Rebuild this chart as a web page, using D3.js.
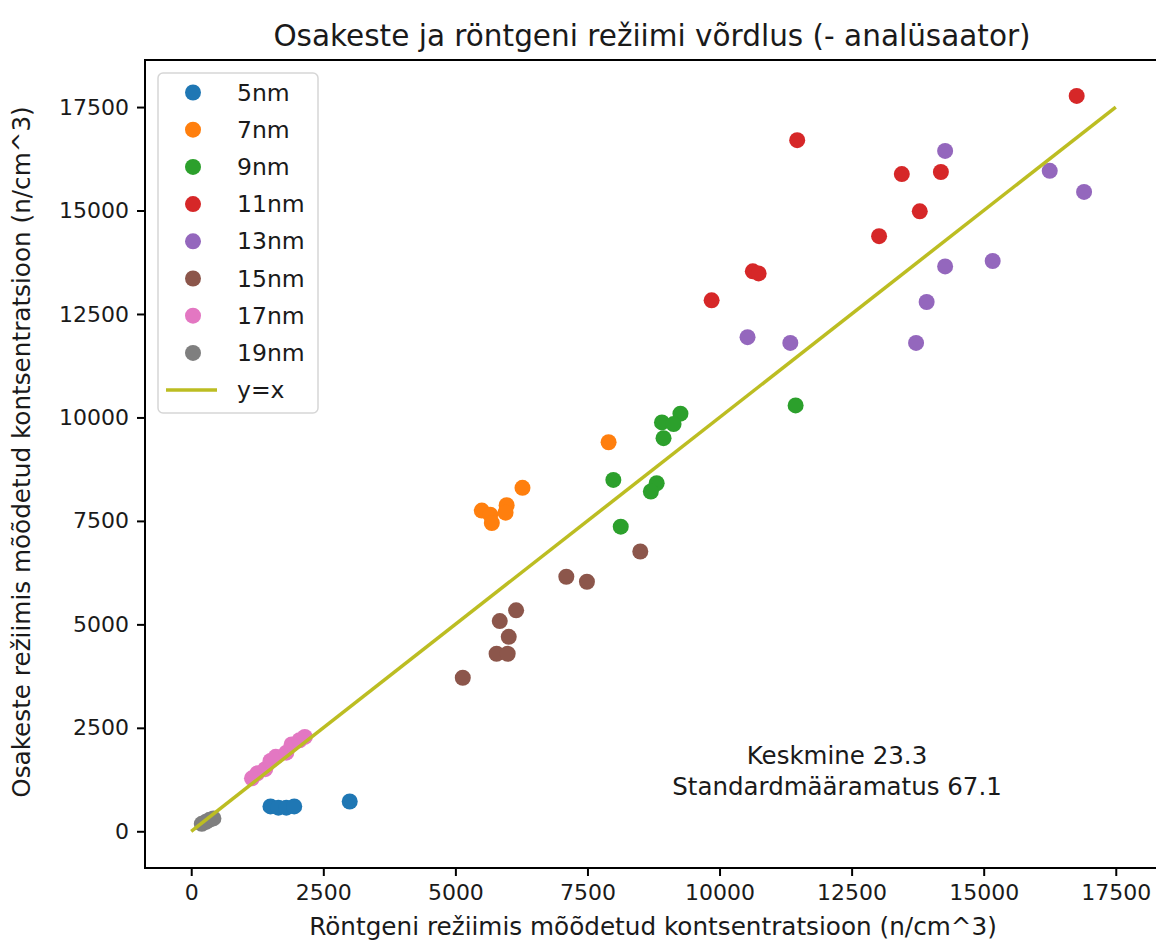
<!DOCTYPE html>
<html>
<head>
<meta charset="utf-8">
<script src="https://cdn.jsdelivr.net/npm/d3@7"></script>
<style>
  html, body { margin: 0; padding: 0; background: #fff; }
  svg { display: block; font-family: "DejaVu Sans", sans-serif; }
</style>
</head>
<body>
<svg id="chart" width="1156" height="945"></svg>
<script>
// Measured concentrations: [X-ray mode, particle mode] in n/cm^3
const labels = ["5nm", "7nm", "9nm", "11nm", "13nm", "15nm", "17nm", "19nm"];
const colors = ["#1f77b4", "#ff7f0e", "#2ca02c", "#d62728", "#9467bd", "#8c564b", "#e377c2", "#7f7f7f"];

const nm5 = [[1500, 600], [1650, 570], [1800, 570], [1950, 600], [3000, 720]];
const nm7 = [[7900, 9400], [6270, 8300], [5500, 7750], [5660, 7650], [5690, 7450], [5970, 7880], [5950, 7700]];
const nm9 = [[9260, 10090], [8910, 9880], [9130, 9840], [8940, 9500], [7990, 8490], [8810, 8410], [8700, 8210], [8130, 7360], [11440, 10290]];
const nm11 = [[16760, 17770], [11470, 16700], [13450, 15880], [14190, 15930], [13790, 14980], [13020, 14380], [10630, 13530], [10740, 13480], [9850, 12830]];
const nm13 = [[14270, 16440], [16250, 15960], [16900, 15450], [14270, 13650], [15170, 13780], [13920, 12790], [10530, 11940], [11340, 11800], [13720, 11800]];
const nm15 = [[8500, 6760], [7100, 6150], [7490, 6030], [6150, 5340], [5840, 5080], [6010, 4700], [5780, 4290], [5990, 4290], [5140, 3710]];
const nm17 = [[1150, 1280], [1250, 1400], [1400, 1500], [1500, 1700], [1600, 1800], [1800, 1900], [1900, 2100], [2050, 2200], [2150, 2280]];
const nm19 = [[200, 180], [280, 230], [350, 280], [420, 310]];

const seriesData = [nm5, nm7, nm9, nm11, nm13, nm15, nm17, nm19];
const identityLine = [[0, 0], [17500, 17500]];
const tickValues = [0, 2500, 5000, 7500, 10000, 12500, 15000, 17500];

const titleText = "Osakeste ja röntgeni režiimi võrdlus (- analüsaator)";
const xLabel = "Röntgeni režiimis mõõdetud kontsentratsioon (n/cm^3)";
const yLabel = "Osakeste režiimis mõõdetud kontsentratsioon (n/cm^3)";
const statLines = ["Keskmine 23.3", "Standardmääramatus 67.1"];

const svg = d3.select("#chart");
const plot = { left: 145, right: 1162, top: 60, bottom: 868 };

const x = d3.scaleLinear().domain([-875, 18375]).range([plot.left, plot.right]);
const y = d3.scaleLinear().domain([-887, 18637]).range([plot.bottom, plot.top]);

svg.append("defs").append("clipPath").attr("id", "plotClip")
  .append("rect")
  .attr("x", plot.left).attr("y", plot.top)
  .attr("width", plot.right - plot.left).attr("height", plot.bottom - plot.top);

const area = svg.append("g").attr("clip-path", "url(#plotClip)");

// scatter series
seriesData.forEach((pts, i) => {
  area.append("g").selectAll("circle")
    .data(pts)
    .join("circle")
    .attr("cx", d => x(d[0]))
    .attr("cy", d => y(d[1]))
    .attr("r", 8)
    .attr("fill", colors[i]);
});

// y = x reference line
area.append("path")
  .datum(identityLine)
  .attr("d", d3.line().x(d => x(d[0])).y(d => y(d[1])))
  .attr("fill", "none")
  .attr("stroke", "#bcbd22")
  .attr("stroke-width", 3.5);

// axes
const xAxis = svg.append("g")
  .attr("transform", `translate(0,${plot.bottom})`)
  .call(d3.axisBottom(x).tickValues(tickValues).tickFormat(d3.format("d")).tickSize(8).tickPadding(8));
const yAxis = svg.append("g")
  .attr("transform", `translate(${plot.left},0)`)
  .call(d3.axisLeft(y).tickValues(tickValues).tickFormat(d3.format("d")).tickSize(8).tickPadding(8));

[xAxis, yAxis].forEach(g => {
  g.select(".domain").remove();
  g.selectAll(".tick line").attr("stroke", "#000").attr("stroke-width", 2);
  g.selectAll(".tick text").attr("fill", "#1a1a1a").style("font-size", "22px")
    .style("font-family", "'DejaVu Sans', sans-serif");
});

// frame
svg.append("rect")
  .attr("x", plot.left).attr("y", plot.top)
  .attr("width", plot.right - plot.left).attr("height", plot.bottom - plot.top)
  .attr("fill", "none").attr("stroke", "#000").attr("stroke-width", 2);

// title and axis labels
svg.append("text")
  .attr("x", 652).attr("y", 46)
  .attr("text-anchor", "middle")
  .attr("fill", "#1a1a1a")
  .style("font-size", "29.5px")
  .text(titleText);

svg.append("text")
  .attr("x", 653).attr("y", 935)
  .attr("text-anchor", "middle")
  .attr("fill", "#1a1a1a")
  .style("font-size", "24.7px")
  .text(xLabel);

svg.append("text")
  .attr("transform", "translate(30,452) rotate(-90)")
  .attr("text-anchor", "middle")
  .attr("fill", "#1a1a1a")
  .style("font-size", "24.7px")
  .text(yLabel);

// statistics annotation
const stat = svg.append("text")
  .attr("text-anchor", "middle")
  .attr("fill", "#1a1a1a")
  .style("font-size", "24.5px");
statLines.forEach((t, i) => {
  stat.append("tspan").attr("x", 837).attr("y", 764 + i * 31).text(t);
});

// legend
const legend = svg.append("g");
legend.append("rect")
  .attr("x", 158).attr("y", 73)
  .attr("width", 160).attr("height", 340)
  .attr("rx", 5)
  .attr("fill", "#fff").attr("fill-opacity", 0.8)
  .attr("stroke", "#d6d6d6").attr("stroke-width", 1.5);

const rowY = i => 92.5 + i * 37.2;
labels.forEach((lab, i) => {
  legend.append("circle")
    .attr("cx", 193).attr("cy", rowY(i)).attr("r", 8).attr("fill", colors[i]);
  legend.append("text")
    .attr("x", 237).attr("y", rowY(i))
    .attr("dominant-baseline", "central")
    .attr("fill", "#1a1a1a")
    .style("font-size", "23.5px")
    .text(lab);
});
legend.append("line")
  .attr("x1", 166).attr("x2", 217)
  .attr("y1", rowY(8)).attr("y2", rowY(8))
  .attr("stroke", "#bcbd22").attr("stroke-width", 3.5);
legend.append("text")
  .attr("x", 237).attr("y", rowY(8))
  .attr("dominant-baseline", "central")
  .attr("fill", "#1a1a1a")
  .style("font-size", "23.5px")
  .text("y=x");
</script>
</body>
</html>
